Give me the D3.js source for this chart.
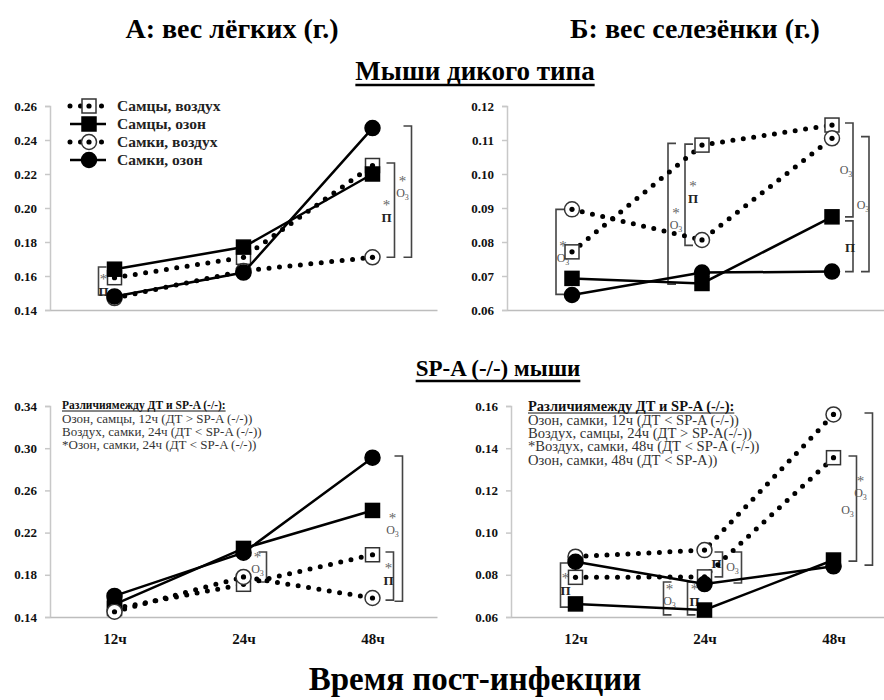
<!DOCTYPE html>
<html>
<head>
<meta charset="utf-8">
<script src="https://cdn.jsdelivr.net/npm/d3@7"></script>
<style>
  body { margin: 0; background: #fff; }
  svg { display: block; }
  svg text { font-family: "Liberation Serif", "DejaVu Serif", "Times New Roman", serif !important; }
</style>
</head>
<body>
<svg id="chart" width="884" height="700"></svg>
<script>
// ---- data ----
const hours = ["12ч", "24ч", "48ч"]
const seriesNames = ["Самцы, воздух", "Самцы, озон", "Самки, воздух", "Самки, озон"]

// A: lung weight, wild type
const lungWtMaleAir = [0.159, 0.171, 0.225]
const lungWtMaleOzone = [0.164, 0.177, 0.220]
const lungWtFemaleAir = [0.147, 0.163, 0.171]
const lungWtFemaleOzone = [0.148, 0.162, 0.247]
// Б: spleen weight, wild type
const spleenWtMaleAir = [0.0771, 0.1085, 0.1144]
const spleenWtMaleOzone = [0.0693, 0.0678, 0.0874]
const spleenWtFemaleAir = [0.0896, 0.0806, 0.1105]
const spleenWtFemaleOzone = [0.0644, 0.0710, 0.0713]
// A: lung weight, SP-A (-/-)
const lungKoMaleAir = [0.148, 0.171, 0.199]
const lungKoMaleOzone = [0.152, 0.205, 0.241]
const lungKoFemaleAir = [0.145, 0.178, 0.158]
const lungKoFemaleOzone = [0.160, 0.201, 0.291]
// Б: spleen weight, SP-A (-/-)
const spleenKoMaleAir = [0.0788, 0.0790, 0.1355]
const spleenKoMaleOzone = [0.0662, 0.0633, 0.0870]
const spleenKoFemaleAir = [0.0886, 0.0917, 0.1560]
const spleenKoFemaleOzone = [0.0862, 0.0756, 0.0840]

const lungWtTicks = [0.14, 0.16, 0.18, 0.20, 0.22, 0.24, 0.26]
const spleenWtTicks = [0.06, 0.07, 0.08, 0.09, 0.10, 0.11, 0.12]
const lungKoTicks = [0.14, 0.18, 0.22, 0.26, 0.30, 0.34]
const spleenKoTicks = [0.06, 0.08, 0.10, 0.12, 0.14, 0.16]

const notesTitle = "Различиямежду ДТ и SP-A (-/-):"
const lungKoNotes = ["Озон, самцы, 12ч (ДТ > SP-A (-/-))", "Воздух, самки, 24ч (ДТ < SP-A (-/-))", "*Озон, самки, 24ч (ДТ < SP-A (-/-))"]
const spleenKoNotes = ["Озон, самки, 12ч (ДТ < SP-A (-/-))", "Воздух, самцы, 24ч (ДТ > SP-A(-/-))", "*Воздух, самки, 48ч (ДТ < SP-A (-/-))", "Озон, самки, 48ч (ДТ < SP-A))"]

// significance brackets: hour index, value span, side, label lines
const lungWtBrackets = [
  { t: 0, dx: -16, v0: 0.1653, v1: 0.1488, side: "l", ldx: -11, lv: 0.1590, lines: ["*", "П"] },
  { t: 2, dx: 22, v0: 0.2265, v1: 0.1710, side: "r", ldx: 14, lv: 0.2024, lines: ["*", "П"] },
  { t: 2, dx: 39, v0: 0.2482, v1: 0.1710, side: "r", ldx: 30, lv: 0.2165, lines: ["*", "O3"] }
]
const spleenWtBrackets = [
  { t: 0, dx: -16, v0: 0.0896, v1: 0.0646, side: "l", ldx: -9, lv: 0.0791, lines: ["*", "O3"] },
  { t: 1, dx: -34, v0: 0.1090, v1: 0.0676, side: "l", ldx: -26, lv: 0.0888, lines: ["*", "O3"] },
  { t: 1, dx: -17, v0: 0.1088, v1: 0.0790, side: "l", ldx: -9, lv: 0.0968, lines: ["*", "П"] },
  { t: 2, dx: 21, v0: 0.1150, v1: 0.0874, side: "r", ldx: 14, lv: 0.1012, lines: ["O3"] },
  { t: 2, dx: 21, v0: 0.0862, v1: 0.0713, side: "r", ldx: 18, lv: 0.0785, lines: ["П"] },
  { t: 2, dx: 37, v0: 0.1110, v1: 0.0713, side: "r", ldx: 31, lv: 0.0909, lines: ["O3"] }
]
const lungKoBrackets = [
  { t: 1, dx: 23, v0: 0.2016, v1: 0.1732, side: "r", ldx: 14, lv: 0.1978, lines: ["*", "O3"] },
  { t: 2, dx: 21, v0: 0.2016, v1: 0.1560, side: "r", ldx: 16, lv: 0.1874, lines: ["*", "П"] },
  { t: 2, dx: 30, v0: 0.2926, v1: 0.1550, side: "r", ldx: 20, lv: 0.2348, lines: ["*", "O3"] }
]
const spleenKoBrackets = [
  { t: 0, dx: -15, v0: 0.0856, v1: 0.0647, side: "l", ldx: -10, lv: 0.0790, lines: ["*", "П"] },
  { t: 1, dx: -41, v0: 0.0766, v1: 0.0610, side: "l", ldx: -35, lv: 0.0737, lines: ["*", "O3"] },
  { t: 1, dx: -17, v0: 0.0766, v1: 0.0610, side: "l", ldx: -10, lv: 0.0737, lines: ["*", "П"] },
  { t: 1, dx: 18, v0: 0.0908, v1: 0.0790, side: "r", ldx: 12, lv: 0.0856, lines: ["П"] },
  { t: 1, dx: 37, v0: 0.0908, v1: 0.0761, side: "r", ldx: 28, lv: 0.0837, lines: ["O3"] },
  { t: 2, dx: 23, v0: 0.1363, v1: 0.0865, side: "r", ldx: 14, lv: 0.1107, lines: ["O3"] },
  { t: 2, dx: 39, v0: 0.1567, v1: 0.0846, side: "r", ldx: 27, lv: 0.1249, lines: ["*", "O3"] }
]

// ---- styles ----
const seriesStyles = [
  { dotted: true, shape: "square", filled: false },
  { dotted: false, shape: "square", filled: true },
  { dotted: true, shape: "circle", filled: false },
  { dotted: false, shape: "circle", filled: true }
]
const FONT = '"Liberation Serif", "DejaVu Serif", serif'

const svg = d3.select("#chart").attr("font-family", FONT)

function drawMarker(g, style, cx, cy) {
  const fill = style.filled ? "#000" : "#fff"
  if (style.shape === "square") {
    g.append("rect")
      .attr("x", cx - 7).attr("y", cy - 7)
      .attr("width", 14).attr("height", 14)
      .attr("fill", fill)
      .attr("stroke", style.filled ? "#000" : "#333")
      .attr("stroke-width", 1.5)
  } else {
    g.append("circle")
      .attr("cx", cx).attr("cy", cy).attr("r", 7.5)
      .attr("fill", fill)
      .attr("stroke", style.filled ? "#000" : "#333")
      .attr("stroke-width", 1.5)
  }
  if (!style.filled) {
    g.append("circle").attr("cx", cx).attr("cy", cy).attr("r", 2.6).attr("fill", "#000")
  }
}

function styleLine(path, style) {
  path.attr("fill", "none").attr("stroke", "#000")
  if (style.dotted) {
    path.attr("stroke-width", 5).attr("stroke-linecap", "round").attr("stroke-dasharray", "0,10.5")
  } else {
    path.attr("stroke-width", 2.5)
  }
}

// one text element per bracket label; each line is a tspan chunk, O3 gets a subscript
function drawBracketLabel(g, lines, x, y0) {
  const t = g.append("text").attr("text-anchor", "middle")
  lines.forEach((txt, i) => {
    const ly = y0 + i * 13
    if (txt === "O3") {
      t.append("tspan").attr("x", x).attr("y", ly + 4)
        .attr("font-size", 12).attr("fill", "#555").text("O")
      t.append("tspan").attr("dy", 3)
        .attr("font-size", 8).attr("fill", "#555").text("3")
    } else if (txt === "*") {
      t.append("tspan").attr("x", x).attr("y", ly + 6)
        .attr("font-size", 15).attr("fill", "#666").text("*")
    } else {
      t.append("tspan").attr("x", x).attr("y", ly + 5)
        .attr("font-size", 13).attr("font-weight", "bold").attr("fill", "#222").text(txt)
    }
  })
}

function drawPanel(cfg) {
  const x = d3.scalePoint().domain(hours).range([cfg.x0, cfg.x1]).padding(0.5)
  const y = d3.scaleLinear().domain(d3.extent(cfg.ticks)).range([cfg.yBot, cfg.yTop])
  const g = svg.append("g")

  // axes
  const yAxis = g.append("g").attr("transform", `translate(${cfg.x0},0)`)
    .call(d3.axisLeft(y).tickValues(cfg.ticks).tickSize(5).tickPadding(8).tickFormat(d3.format(".2f")))
    .attr("font-family", FONT)
  yAxis.select(".domain").attr("stroke", "#c8c8c8").attr("stroke-width", 1.5)
  yAxis.selectAll(".tick line").attr("stroke", "#c8c8c8").attr("stroke-width", 1.5)
  yAxis.selectAll(".tick text")
    .attr("font-size", 13).attr("font-weight", "bold").attr("fill", "#111")

  const xAxis = g.append("g").attr("transform", `translate(0,${cfg.yBot})`)
    .call(d3.axisBottom(x).tickSize(0).tickPadding(16).tickSizeOuter(0))
    .attr("font-family", FONT)
  xAxis.select(".domain").attr("stroke", "#bdbdbd").attr("stroke-width", 1.5)
  xAxis.selectAll(".tick text")
    .attr("font-size", 15).attr("font-weight", "bold").attr("fill", "#111")
    .style("display", cfg.showHours ? null : "none")

  // brackets drawn first, markers cover them
  cfg.brackets.forEach(b => {
    const bx = x(hours[b.t]) + b.dx
    const tick = b.side === "r" ? -8 : 8
    g.append("path")
      .attr("d", `M${bx + tick},${y(b.v0)}H${bx}V${y(b.v1)}H${bx + tick}`)
      .attr("fill", "none").attr("stroke", "#444").attr("stroke-width", 1.6)
    drawBracketLabel(g, b.lines, x(hours[b.t]) + b.ldx, y(b.lv))
  })

  // series
  const line = d3.line().x((d, i) => x(hours[i])).y(d => y(d))
  cfg.series.forEach((values, si) => {
    const style = seriesStyles[si]
    const sg = g.append("g")
    styleLine(sg.append("path").attr("d", line(values)), style)
    values.forEach((v, i) => drawMarker(sg, style, x(hours[i]), y(v)))
  })

  // notes
  if (cfg.notes) {
    const ng = g.append("g").attr("font-size", cfg.notesSize).attr("fill", "#333")
    const title = ng.append("text").attr("x", cfg.notesX).attr("y", cfg.notesY)
      .attr("font-weight", "bold").attr("font-size", cfg.notesTitleSize)
      .attr("fill", "#111").text(notesTitle)
    const w = title.node().getComputedTextLength()
    ng.append("line").attr("x1", cfg.notesX).attr("x2", cfg.notesX + w)
      .attr("y1", cfg.notesY + 2).attr("y2", cfg.notesY + 2)
      .attr("stroke", "#111").attr("stroke-width", 1)
    cfg.notes.forEach((n, i) => {
      ng.append("text").attr("x", cfg.notesX).attr("y", cfg.notesY + 14 + i * 13.2).text(n)
    })
  }
}

drawPanel({
  x0: 50, x1: 437, yTop: 106, yBot: 310, ticks: lungWtTicks, showHours: false,
  series: [lungWtMaleAir, lungWtMaleOzone, lungWtFemaleAir, lungWtFemaleOzone],
  brackets: lungWtBrackets
})
drawPanel({
  x0: 507, x1: 897, yTop: 106, yBot: 310, ticks: spleenWtTicks, showHours: false,
  series: [spleenWtMaleAir, spleenWtMaleOzone, spleenWtFemaleAir, spleenWtFemaleOzone],
  brackets: spleenWtBrackets
})
drawPanel({
  x0: 50, x1: 437, yTop: 406, yBot: 617, ticks: lungKoTicks, showHours: true,
  series: [lungKoMaleAir, lungKoMaleOzone, lungKoFemaleAir, lungKoFemaleOzone],
  brackets: lungKoBrackets,
  notes: lungKoNotes, notesX: 62, notesY: 409, notesSize: 13, notesTitleSize: 11.5
})
drawPanel({
  x0: 511, x1: 898, yTop: 406, yBot: 617, ticks: spleenKoTicks, showHours: true,
  series: [spleenKoMaleAir, spleenKoMaleOzone, spleenKoFemaleAir, spleenKoFemaleOzone],
  brackets: spleenKoBrackets,
  notes: spleenKoNotes, notesX: 528, notesY: 411, notesSize: 14.6, notesTitleSize: 14.5
})

// legend (top-left panel)
const legend = svg.append("g")
const legendY = [106, 124, 142, 160]
seriesNames.forEach((name, i) => {
  const style = seriesStyles[i]
  const ly = legendY[i]
  styleLine(legend.append("path").attr("d", `M70,${ly}H106`), style)
  drawMarker(legend, style, 89, ly)
  legend.append("text").attr("x", 117).attr("y", ly + 5)
    .attr("font-size", 15.5).attr("font-weight", "bold").attr("fill", "#222").text(name)
})

// headings
function heading(text, cx, y, size, underline) {
  const t = svg.append("text").attr("x", cx).attr("y", y)
    .attr("text-anchor", "middle").attr("font-size", size).attr("font-weight", "bold")
    .attr("fill", "#000").text(text)
  if (underline) {
    const w = t.node().getComputedTextLength()
    svg.append("line").attr("x1", cx - w / 2).attr("x2", cx + w / 2)
      .attr("y1", y + 5).attr("y2", y + 5).attr("stroke", "#000").attr("stroke-width", 2.5)
  }
}
heading("А: вес лёгких (г.)", 232, 38, 28, false)
heading("Б: вес селезёнки (г.)", 695, 38, 28, false)
heading("Мыши дикого типа", 475, 80, 27, true)
heading("SP-A (-/-) мыши", 498, 376, 23, true)
heading("Время пост-инфекции", 475, 690, 33, false)
</script>
</body>
</html>
